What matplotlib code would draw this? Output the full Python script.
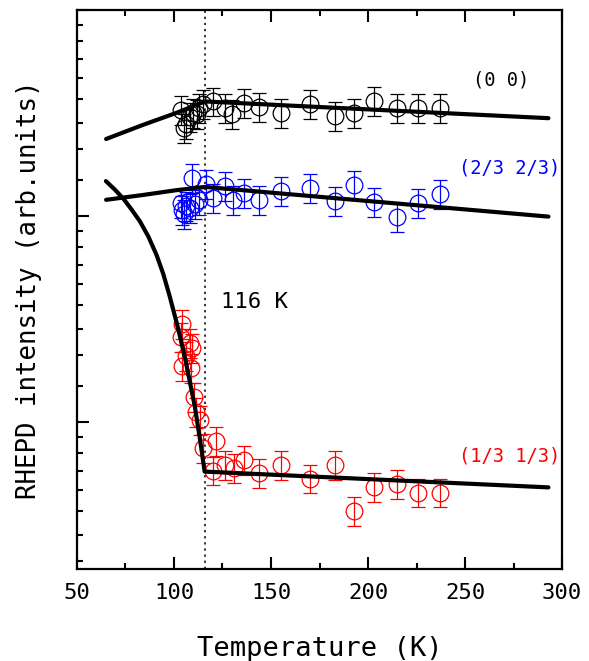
import numpy as np
import matplotlib
matplotlib.use("Agg")
import matplotlib.pyplot as plt
from matplotlib.ticker import FixedLocator, MultipleLocator, NullFormatter

# measured points (temperature in K, intensity in arb. units)
T_00 = [103.5, 105, 106, 108, 110, 112, 113, 115, 120, 126.5, 130, 136, 144, 155, 170, 183, 193, 203, 215, 226, 237]
I_00 = [4.55, 4.17, 4.25, 4.40, 4.48, 4.46, 4.59, 4.68, 4.74, 4.59, 4.46, 4.71, 4.62, 4.49, 4.68, 4.42, 4.48, 4.76, 4.59, 4.60, 4.60]

T_23 = [103.5, 104, 105, 106, 108, 109.5, 111, 113, 116.5, 120, 126.5, 130.5, 136, 144, 155, 170, 183, 193, 203, 215, 226, 237]
I_23 = [2.90, 2.80, 2.75, 2.85, 2.83, 3.27, 2.88, 2.94, 3.18, 2.97, 3.14, 2.94, 3.04, 2.94, 3.07, 3.11, 2.92, 3.16, 2.91, 2.71, 2.90, 3.02]

T_13 = [104, 103.5, 108, 109.5, 106, 104, 109, 110.5, 111.5, 113.5, 115, 121.5, 120, 126.5, 131, 136, 144, 155, 170, 183, 193, 203, 215, 226, 237]
I_13 = [1.61, 1.51, 1.47, 1.43, 1.38, 1.31, 1.30, 1.13, 1.05, 1.01, 0.88, 0.91, 0.79, 0.81, 0.80, 0.83, 0.78, 0.81, 0.76, 0.81, 0.65, 0.73, 0.74, 0.71, 0.71]

rel_err = 0.07  # error bars are about 7% of the intensity

# fit curves
fitT_00 = [65, 84, 101, 116, 293]
fitI_00 = [3.95, 4.23, 4.48, 4.74, 4.37]
fitT_23 = [65, 84, 101, 116, 293]
fitI_23 = [2.94, 3.01, 3.08, 3.13, 2.71]
fitT_13 = [64.9, 69.5, 73.8, 78.0, 82.4, 86.8, 91.0, 94.5, 97.8, 101.7, 105.6, 108.1, 110.7, 113.3, 115.8, 293]
fitI_13 = [3.22, 3.09, 2.96, 2.81, 2.65, 2.46, 2.25, 2.05, 1.84, 1.60, 1.37, 1.22, 1.08, 0.925, 0.786, 0.728]

Tc = 116

mono = "DejaVu Sans Mono"
fig = plt.figure(figsize=(5.89, 6.61), dpi=100)
ax = fig.add_axes([0.1307, 0.1392, 0.8235, 0.8457])

series = [(T_00, I_00, "black"), (T_23, I_23, "#0000ff"), (T_13, I_13, "#ff0000")]
for T, I, c in series:
    I = np.array(I)
    ax.errorbar(T, I, yerr=rel_err * I, fmt="o", ms=12, mfc="none", mec=c, mew=0.9,
                ecolor=c, elinewidth=0.9, capsize=5, capthick=0.9, zorder=2)

for fT, fI in [(fitT_00, fitI_00), (fitT_23, fitI_23), (fitT_13, fitI_13)]:
    ax.plot(fT, fI, color="black", lw=3, solid_capstyle="round", solid_joinstyle="round", zorder=3)

ax.axvline(Tc, color="black", lw=1.1, ls=(0, (1.5, 2.5)), zorder=1)

# natural log y axis, minor ticks spaced linearly inside each decade
ax.set_yscale("log", base=np.e)
ax.set_ylim(np.exp(-0.7136), np.exp(2))
ax.yaxis.set_major_locator(FixedLocator([np.exp(k) for k in range(-1, 3)]))
minor = []
for k in range(-1, 2):
    lo, hi = np.exp(k), np.exp(k + 1)
    minor += [lo + i * (hi - lo) / 9 for i in range(1, 9)]
ax.yaxis.set_minor_locator(FixedLocator(minor))
ax.yaxis.set_major_formatter(NullFormatter())
ax.yaxis.set_minor_formatter(NullFormatter())

ax.set_xlim(50, 300)
ax.xaxis.set_major_locator(MultipleLocator(50))
ax.xaxis.set_minor_locator(FixedLocator([75, 125, 175, 225, 275]))

ax.tick_params(which="both", direction="in", top=True, right=False, width=1.5)
ax.tick_params(which="major", length=8.5, labelsize=16, pad=10)
ax.tick_params(which="minor", length=4.5)
for lab in ax.get_xticklabels():
    lab.set_fontfamily(mono)
for s in ax.spines.values():
    s.set_linewidth(1.6)

ax.set_xlabel("Temperature (K)", fontsize=19.5, family=mono, labelpad=24)
ax.set_ylabel("RHEPD intensity (arb.units)", fontsize=18.5, family=mono, labelpad=15)

ax.text(0.874, 0.875, "(0 0)", transform=ax.transAxes, ha="center", va="center",
        fontsize=13.5, family=mono, color="black")
ax.text(0.892, 0.717, "(2/3 2/3)", transform=ax.transAxes, ha="center", va="center",
        fontsize=13.5, family=mono, color="#0000ff")
ax.text(0.891, 0.202, "(1/3 1/3)", transform=ax.transAxes, ha="center", va="center",
        fontsize=13.5, family=mono, color="#ff0000")
ax.text(0.365, 0.478, "116 K", transform=ax.transAxes, ha="center", va="center",
        fontsize=16, family=mono, color="black")

fig.savefig("out.png", dpi=100)
